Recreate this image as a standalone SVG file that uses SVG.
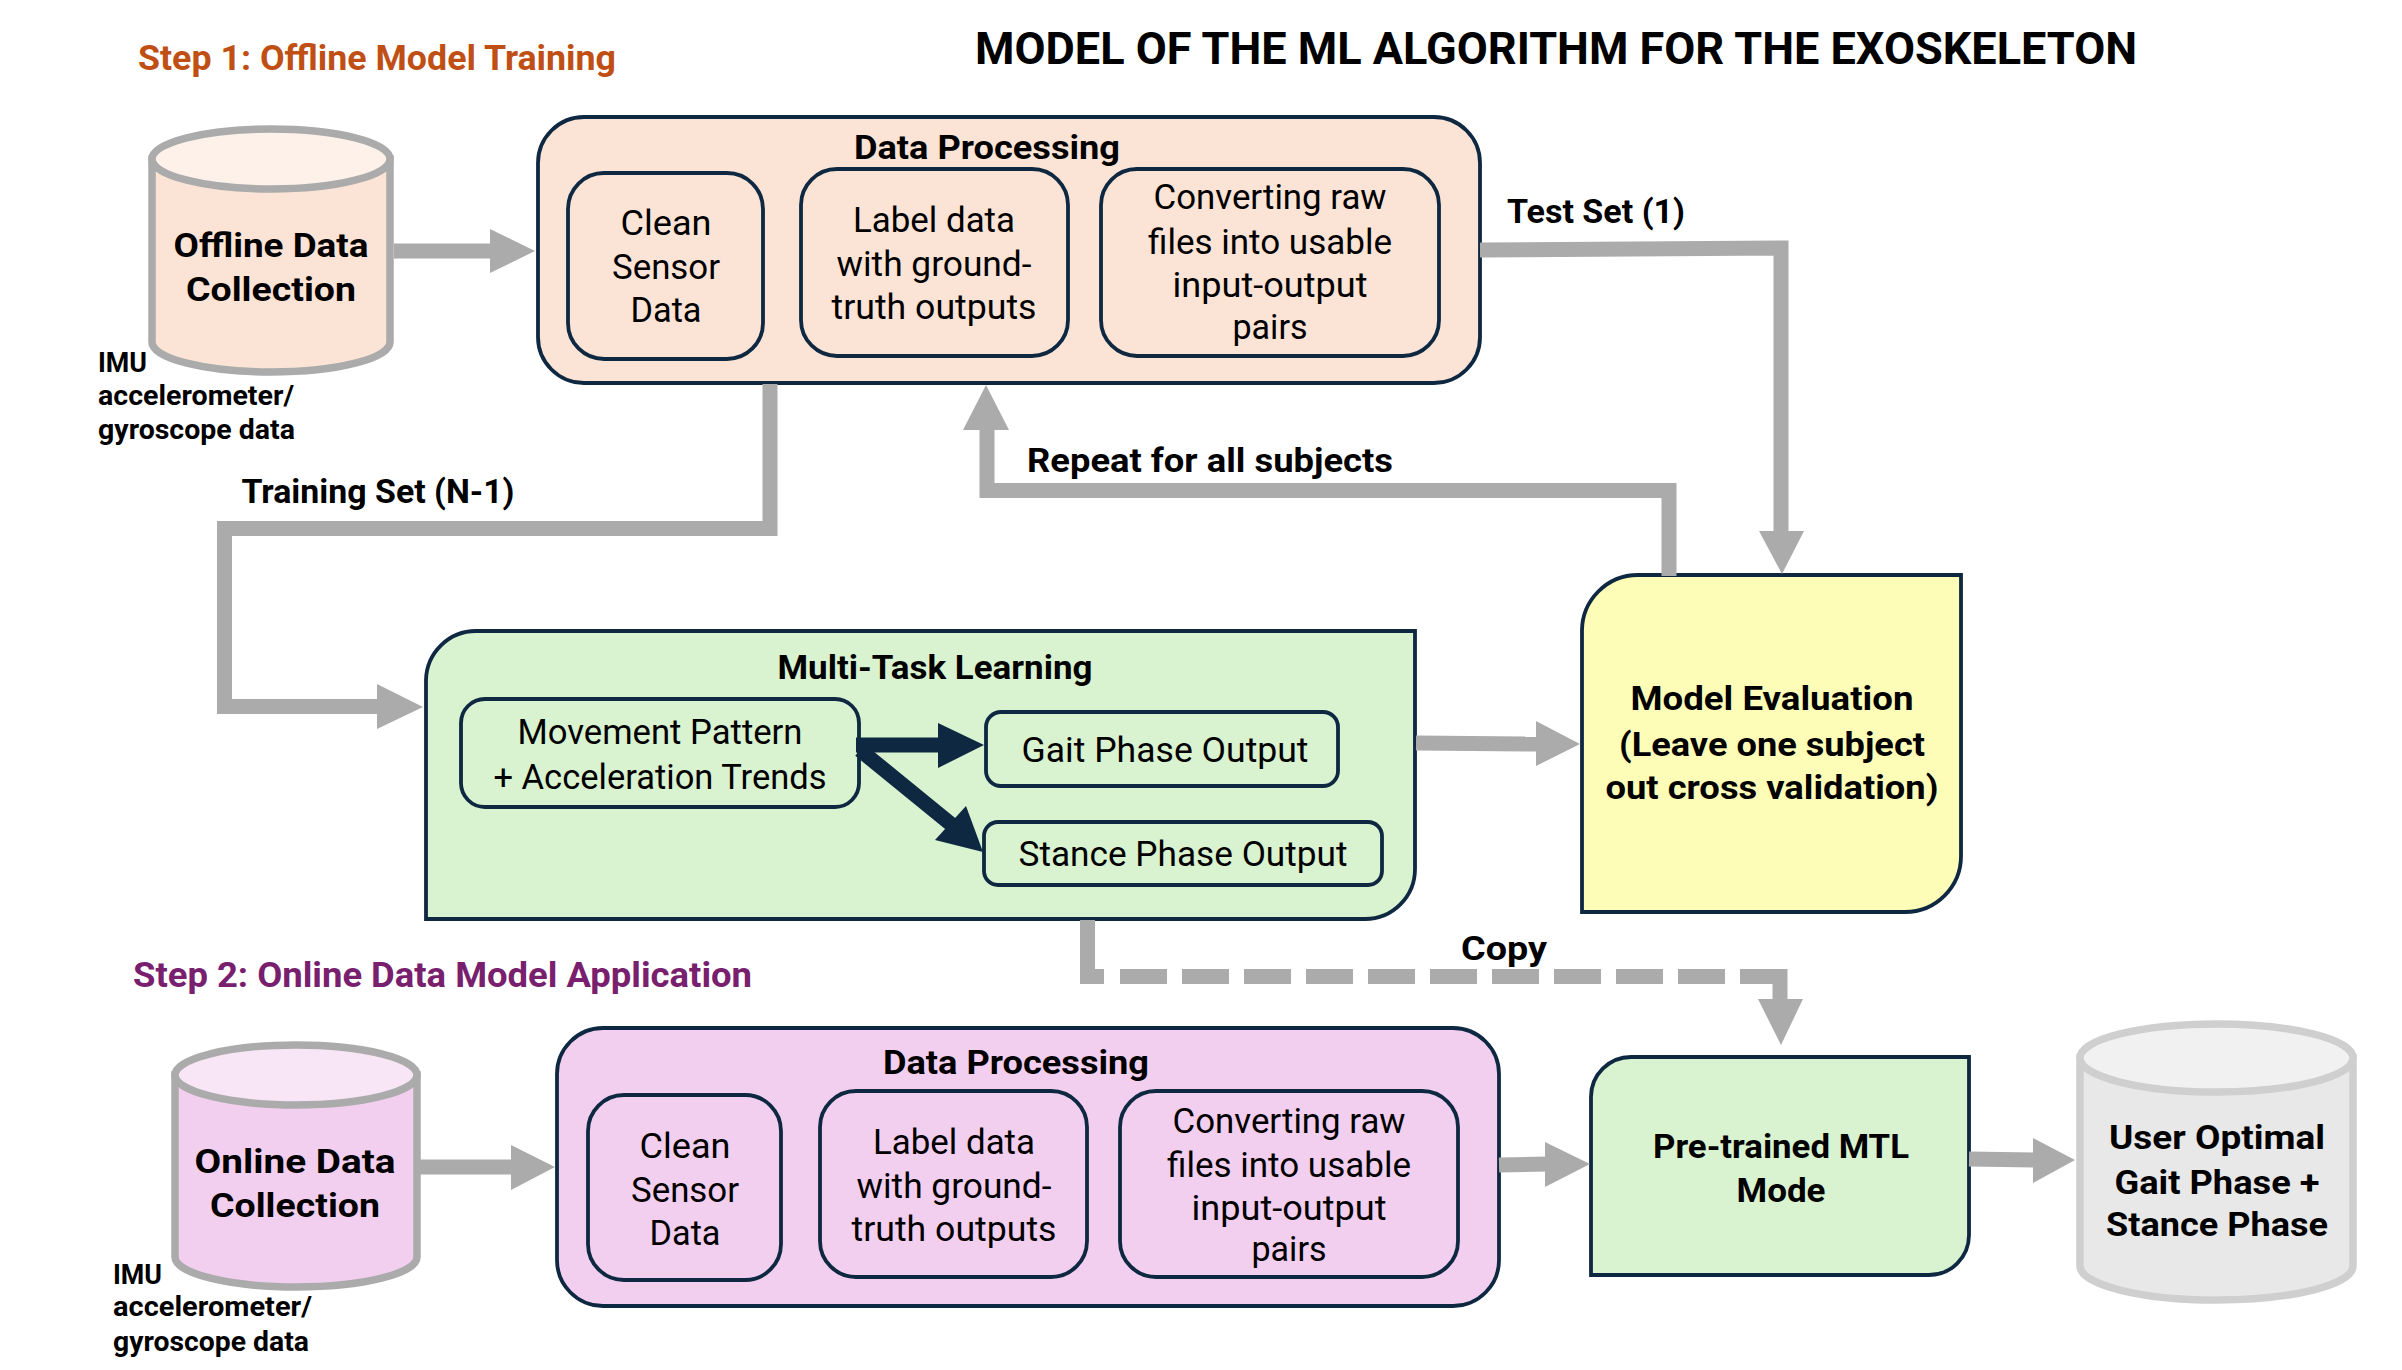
<svg xmlns="http://www.w3.org/2000/svg" width="2402" height="1370" viewBox="0 0 2402 1370">
<style>
text{font-family:Roboto,"Noto Sans","Liberation Sans",sans-serif;fill:#000;text-anchor:middle}
.b{font-weight:700;font-size:34px}
.r{font-weight:400;font-size:35px}
.s{font-weight:700;font-size:28px;text-anchor:start}
.h{font-weight:700;font-size:44px;text-anchor:start}
.st{font-weight:700;font-size:35px;text-anchor:start}
.box{stroke:#0E2841;stroke-width:3.800}
.peach{fill:#FBE3D6}.pink{fill:#F2CFEE}.green{fill:#D9F2D0}.yellow{fill:#FDFDB8}
.cyl{stroke-width:7.500}
.c{fill:none;stroke:#ABABAB;stroke-linejoin:miter}
.a{fill:#ABABAB}
.d{fill:#0E2841}
</style>
<rect width="2402" height="1370" fill="#fff"/>
<g id="titles">
<text class="h" x="975" y="64" textLength="1162" lengthAdjust="spacingAndGlyphs">MODEL OF THE ML ALGORITHM FOR THE EXOSKELETON</text>
<text class="st" x="138" y="70" textLength="478" lengthAdjust="spacingAndGlyphs" style="fill:#C04F15">Step 1: Offline Model Training</text>
<text class="st" x="133" y="987" textLength="619" lengthAdjust="spacingAndGlyphs" style="fill:#78206E">Step 2: Online Data Model Application</text>
</g>
<g id="offline-data-collection">
<path class="cyl" d="M152,159V342A119,30 0 0 0 390,342V159Z" fill="#FBE3D6" stroke="#ABABAB"/>
<ellipse class="cyl" cx="271" cy="159" rx="119" ry="30" fill="#FDF1EA" stroke="#ABABAB"/>
<text class="b" x="271" y="257" textLength="195" lengthAdjust="spacingAndGlyphs">Offline Data</text>
<text class="b" x="271" y="301" textLength="170" lengthAdjust="spacingAndGlyphs">Collection</text>
</g>
<g id="imu-note-1">
<text class="s" x="98" y="372" textLength="49" lengthAdjust="spacingAndGlyphs">IMU</text>
<text class="s" x="98" y="405" textLength="196" lengthAdjust="spacingAndGlyphs">accelerometer/</text>
<text class="s" x="98" y="439" textLength="197" lengthAdjust="spacingAndGlyphs">gyroscope data</text>
</g>
<g id="data-processing-1">
<rect class="box peach" x="538" y="117" width="942" height="266" rx="46"/>
<text class="b" x="987" y="159" textLength="266" lengthAdjust="spacingAndGlyphs">Data Processing</text>
</g>
<g id="clean-1">
<rect class="box peach" x="568" y="173" width="195" height="186" rx="36"/>
<text class="r" x="666" y="235" textLength="91" lengthAdjust="spacingAndGlyphs">Clean</text>
<text class="r" x="666" y="279" textLength="108" lengthAdjust="spacingAndGlyphs">Sensor</text>
<text class="r" x="666" y="322" textLength="71" lengthAdjust="spacingAndGlyphs">Data</text>
</g>
<g id="label-1">
<rect class="box peach" x="801" y="169" width="267" height="187" rx="36"/>
<text class="r" x="934" y="232" textLength="162" lengthAdjust="spacingAndGlyphs">Label data</text>
<text class="r" x="934" y="276" textLength="195" lengthAdjust="spacingAndGlyphs">with ground-</text>
<text class="r" x="934" y="319" textLength="205" lengthAdjust="spacingAndGlyphs">truth outputs</text>
</g>
<g id="convert-1">
<rect class="box peach" x="1101" y="169" width="338" height="187" rx="36"/>
<text class="r" x="1270" y="209" textLength="233" lengthAdjust="spacingAndGlyphs">Converting raw</text>
<text class="r" x="1270" y="254" textLength="244" lengthAdjust="spacingAndGlyphs">files into usable</text>
<text class="r" x="1270" y="297" textLength="195" lengthAdjust="spacingAndGlyphs">input-output</text>
<text class="r" x="1270" y="339" textLength="75" lengthAdjust="spacingAndGlyphs">pairs</text>
</g>
<g id="multi-task-learning">
<path class="box green" d="M426,919V680A50,50 0 0 1 476,631H1415V869A50,50 0 0 1 1365,919Z"/>
<text class="b" x="935" y="679" textLength="315" lengthAdjust="spacingAndGlyphs">Multi-Task Learning</text>
</g>
<g id="movement">
<rect class="box green" x="461" y="699" width="398" height="108" rx="24"/>
<text class="r" x="660" y="744" textLength="285" lengthAdjust="spacingAndGlyphs">Movement Pattern</text>
<text class="r" x="660" y="789" textLength="333" lengthAdjust="spacingAndGlyphs">+ Acceleration Trends</text>
</g>
<g id="gait-output">
<rect class="box green" x="986" y="712" width="352" height="74" rx="15"/>
<text class="r" x="1165" y="762" textLength="287" lengthAdjust="spacingAndGlyphs">Gait Phase Output</text>
</g>
<g id="stance-output">
<rect class="box green" x="984" y="822" width="398" height="63" rx="14"/>
<text class="r" x="1183" y="866" textLength="329" lengthAdjust="spacingAndGlyphs">Stance Phase Output</text>
</g>
<g id="model-evaluation">
<path class="box yellow" d="M1582,912V632A56,56 0 0 1 1638,575H1961V856A56,56 0 0 1 1905,912Z"/>
<text class="b" x="1772" y="710" textLength="283" lengthAdjust="spacingAndGlyphs">Model Evaluation</text>
<text class="b" x="1772" y="756" textLength="306" lengthAdjust="spacingAndGlyphs">(Leave one subject</text>
<text class="b" x="1772" y="799" textLength="333" lengthAdjust="spacingAndGlyphs">out cross validation)</text>
</g>
<g id="online-data-collection">
<path class="cyl" d="M175,1075V1257A121,30 0 0 0 417,1257V1075Z" fill="#F2CFEE" stroke="#ABABAB"/>
<ellipse class="cyl" cx="296" cy="1075" rx="121" ry="30" fill="#F8E5F6" stroke="#ABABAB"/>
<text class="b" x="295" y="1173" textLength="201" lengthAdjust="spacingAndGlyphs">Online  Data</text>
<text class="b" x="295" y="1217" textLength="170" lengthAdjust="spacingAndGlyphs">Collection</text>
</g>
<g id="imu-note-2">
<text class="s" x="113" y="1284" textLength="49" lengthAdjust="spacingAndGlyphs">IMU</text>
<text class="s" x="113" y="1316" textLength="199" lengthAdjust="spacingAndGlyphs">accelerometer/</text>
<text class="s" x="113" y="1351" textLength="196" lengthAdjust="spacingAndGlyphs">gyroscope data</text>
</g>
<g id="data-processing-2">
<rect class="box pink" x="557" y="1028" width="942" height="278" rx="46"/>
<text class="b" x="1016" y="1074" textLength="266" lengthAdjust="spacingAndGlyphs">Data Processing</text>
</g>
<g id="clean-2">
<rect class="box pink" x="588" y="1095" width="193" height="185" rx="36"/>
<text class="r" x="685" y="1158" textLength="91" lengthAdjust="spacingAndGlyphs">Clean</text>
<text class="r" x="685" y="1202" textLength="108" lengthAdjust="spacingAndGlyphs">Sensor</text>
<text class="r" x="685" y="1245" textLength="71" lengthAdjust="spacingAndGlyphs">Data</text>
</g>
<g id="label-2">
<rect class="box pink" x="820" y="1091" width="267" height="186" rx="36"/>
<text class="r" x="954" y="1154" textLength="162" lengthAdjust="spacingAndGlyphs">Label data</text>
<text class="r" x="954" y="1198" textLength="195" lengthAdjust="spacingAndGlyphs">with ground-</text>
<text class="r" x="954" y="1241" textLength="205" lengthAdjust="spacingAndGlyphs">truth outputs</text>
</g>
<g id="convert-2">
<rect class="box pink" x="1120" y="1091" width="338" height="186" rx="36"/>
<text class="r" x="1289" y="1133" textLength="233" lengthAdjust="spacingAndGlyphs">Converting raw</text>
<text class="r" x="1289" y="1177" textLength="244" lengthAdjust="spacingAndGlyphs">files into usable</text>
<text class="r" x="1289" y="1220" textLength="195" lengthAdjust="spacingAndGlyphs">input-output</text>
<text class="r" x="1289" y="1261" textLength="75" lengthAdjust="spacingAndGlyphs">pairs</text>
</g>
<g id="pretrained-mtl">
<path class="box green" d="M1591,1275V1097A40,40 0 0 1 1631,1057H1969V1235A40,40 0 0 1 1929,1275Z"/>
<text class="b" x="1781" y="1158" textLength="256" lengthAdjust="spacingAndGlyphs">Pre-trained MTL</text>
<text class="b" x="1781" y="1202" textLength="89" lengthAdjust="spacingAndGlyphs">Mode</text>
</g>
<g id="user-output">
<path class="cyl" d="M2080,1058V1266A136.500,34 0 0 0 2353,1266V1058Z" fill="#E8E8E8" stroke="#CFCFCF"/>
<ellipse class="cyl" cx="2216.500" cy="1058" rx="136.500" ry="34" fill="#F1F1F1" stroke="#CFCFCF"/>
<text class="b" x="2217" y="1149" textLength="216" lengthAdjust="spacingAndGlyphs">User Optimal</text>
<text class="b" x="2217" y="1194" textLength="205" lengthAdjust="spacingAndGlyphs">Gait Phase +</text>
<text class="b" x="2217" y="1236" textLength="222" lengthAdjust="spacingAndGlyphs">Stance Phase</text>
</g>
<g id="connectors">
<path class="c" stroke-width="15" d="M394,251H492"/><polygon class="a" points="490,229 535,251 490,273"/>
<path class="c" stroke-width="15" d="M1480,250L1781,248V535"/><polygon class="a" points="1759,531 1804,531 1782,574"/>
<path class="c" stroke-width="15" d="M1669,576V490.500H987V428"/><polygon class="a" points="963,430 1009,430 986,385"/>
<path class="c" stroke-width="15" d="M770,384V528.500H224.500V706.500H380"/><polygon class="a" points="377,684 423,707 377,729"/>
<path class="c" stroke-width="15" d="M1416,743L1538,744"/><polygon class="a" points="1536,721 1580,744 1536,766"/>
<path class="c" stroke-width="15" d="M1087.500,920V976.500H1104"/>
<path class="c" stroke-width="15" stroke-dasharray="47 15" d="M1120,976.500H1787"/>
<path class="c" stroke-width="15" d="M1780,969V1002"/><polygon class="a" points="1758,999 1803,999 1781,1045"/>
<path class="c" stroke-width="15" d="M420,1167H513"/><polygon class="a" points="511,1145 555,1167 511,1190"/>
<path class="c" stroke-width="15" d="M1499,1165L1547,1164"/><polygon class="a" points="1545,1142 1590,1164 1545,1187"/>
<path class="c" stroke-width="15" d="M1969,1159L2035,1160"/><polygon class="a" points="2033,1138 2075,1160 2033,1183"/>
<path d="M856,745H940" fill="none" stroke="#0E2841" stroke-width="15"/><polygon class="d" points="938,723 984,745 938,768"/>
<path d="M860,750L952,825" fill="none" stroke="#0E2841" stroke-width="15"/><polygon class="d" points="966,806 935,840 983,852"/>
<text class="b" x="1596" y="223" textLength="178" lengthAdjust="spacingAndGlyphs">Test Set (1)</text>
<text class="b" x="1210" y="472" textLength="366" lengthAdjust="spacingAndGlyphs">Repeat for all subjects</text>
<text class="b" x="378" y="503" textLength="273" lengthAdjust="spacingAndGlyphs">Training Set (N-1)</text>
<text class="b" x="1504" y="960" textLength="86" lengthAdjust="spacingAndGlyphs">Copy</text>
</g>
</svg>
